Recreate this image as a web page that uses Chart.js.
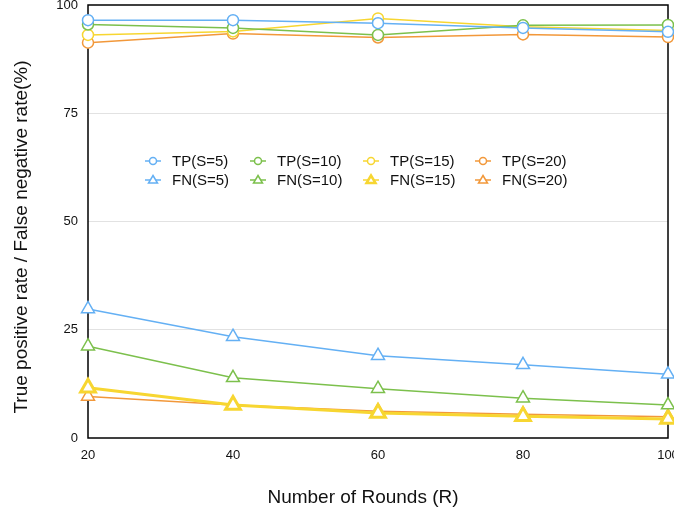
<!DOCTYPE html>
<html>
<head>
<meta charset="utf-8">
<script src="https://cdn.jsdelivr.net/npm/chart.js@4.4.0/dist/chart.umd.min.js"></script>
<style>
html, body { margin: 0; padding: 0; background: #fff; overflow: hidden; }
#wrap { width: 680px; height: 521px; }
</style>
</head>
<body>
<div id="wrap"><canvas id="chart1"></canvas></div>
<script>
var rounds = [20, 40, 60, 80, 100]
var yTicks = [0, 25, 50, 75, 100]

var tp5  = [96.5, 96.5, 95.8, 94.7, 93.8]
var tp10 = [95.5, 94.7, 93.1, 95.3, 95.4]
var tp15 = [93.1, 93.9, 96.9, 95.0, 94.1]
var tp20 = [91.3, 93.4, 92.5, 93.2, 92.6]

var fn5  = [29.8, 23.4, 19.0, 16.9, 14.7]
var fn10 = [21.2, 13.9, 11.4, 9.2, 7.6]
var fn15 = [11.6, 7.6, 5.8, 5.0, 4.4]
var fn20 = [9.6, 7.6, 6.2, 5.5, 4.9]

var xTitle = 'Number of Rounds (R)'
var yTitle = 'True positive rate / False negative rate(%)'

var blue = '#64b0f4'
var green = '#7cc04c'
var yellow = '#f7d631'
var orange = '#f2983a'
var FONT = '"Liberation Sans", Arial, sans-serif'

function series(label, data, col, shape, radius, width) {
    return {
        label: label,
        data: data,
        borderColor: col,
        backgroundColor: col,
        borderWidth: width,
        pointStyle: shape,
        pointRadius: radius,
        pointHoverRadius: radius,
        pointBorderWidth: width,
        pointBorderColor: col,
        pointBackgroundColor: '#fff',
        tension: 0,
        fill: false
    }
}

var datasets = [
    series('TP(S=5)', tp5, blue, 'circle', 5.5, 1.5),
    series('TP(S=10)', tp10, green, 'circle', 5.5, 1.5),
    series('TP(S=15)', tp15, yellow, 'circle', 5.5, 1.5),
    series('TP(S=20)', tp20, orange, 'circle', 5.5, 1.5),
    series('FN(S=5)', fn5, blue, 'triangle', 7.5, 1.5),
    series('FN(S=10)', fn10, green, 'triangle', 7.5, 1.5),
    series('FN(S=15)', fn15, yellow, 'triangle', 8.5, 3),
    series('FN(S=20)', fn20, orange, 'triangle', 7.5, 1.5)
]

// black frame round the plot, drawn under the points
var framePlugin = {
    id: 'frame',
    beforeDatasetsDraw: function(chart) {
        var a = chart.chartArea
        var ctx = chart.ctx
        ctx.save()
        ctx.strokeStyle = '#000'
        ctx.lineWidth = 1.5
        ctx.strokeRect(a.left, a.top, a.right - a.left, a.bottom - a.top)
        ctx.restore()
    }
}

// axis titles, placed where the original has them
var titlePlugin = {
    id: 'axisTitles',
    afterDraw: function(chart) {
        var ctx = chart.ctx
        ctx.save()
        ctx.font = '19px ' + FONT
        ctx.fillStyle = '#111'
        ctx.textAlign = 'center'
        ctx.textBaseline = 'middle'
        ctx.fillText(xTitle, 363, 498)
        ctx.translate(22, 237)
        ctx.rotate(-Math.PI / 2)
        ctx.fillText(yTitle, 0, 0)
        ctx.restore()
    }
}

// legend inside the plot, 4 columns x 2 rows
var legendPlugin = {
    id: 'innerLegend',
    afterDraw: function(chart) {
        var ctx = chart.ctx
        var colX = [153, 258, 371, 483]
        var rowY = [161, 180]
        ctx.save()
        ctx.font = '15px ' + FONT
        ctx.textBaseline = 'middle'
        chart.data.datasets.forEach(function(ds, i) {
            var cx = colX[i % 4]
            var cy = rowY[Math.floor(i / 4)]
            ctx.strokeStyle = ds.borderColor
            ctx.lineWidth = 1.5
            ctx.beginPath()
            ctx.moveTo(cx - 8, cy)
            ctx.lineTo(cx + 8, cy)
            ctx.stroke()
            ctx.fillStyle = '#fff'
            ctx.lineWidth = ds.pointStyle == 'triangle' && ds.borderWidth > 2 ? 2.5 : 1.5
            ctx.beginPath()
            if (ds.pointStyle == 'circle') {
                ctx.arc(cx, cy, 3.5, 0, Math.PI * 2)
            } else {
                ctx.moveTo(cx, cy - 4.5)
                ctx.lineTo(cx + 4.5, cy + 3)
                ctx.lineTo(cx - 4.5, cy + 3)
                ctx.closePath()
            }
            ctx.fill()
            ctx.stroke()
            ctx.fillStyle = '#111'
            ctx.fillText(ds.label, cx + 19, cy + 1)
        })
        ctx.restore()
    }
}

window.onload = function() {
    new Chart(document.getElementById('chart1'), {
        type: 'line',
        data: { labels: rounds, datasets: datasets },
        plugins: [framePlugin, legendPlugin, titlePlugin],
        options: {
            responsive: true,
            maintainAspectRatio: false,
            animation: false,
            layout: { autoPadding: false, padding: { top: 5, right: 12, left: 0, bottom: 0 } },
            plugins: {
                legend: { display: false },
                tooltip: { enabled: false },
                title: { display: false }
            },
            scales: {
                x: {
                    offset: false,
                    grid: { display: false, drawTicks: false },
                    border: { display: false },
                    ticks: {
                        color: '#111',
                        padding: 10,
                        maxRotation: 0,
                        font: { family: FONT, size: 13 }
                    },
                    afterFit: function(scale) {
                        scale.height = 83
                        scale.paddingRight = 0
                        scale.paddingLeft = 0
                    }
                },
                y: {
                    min: 0,
                    max: 100,
                    afterBuildTicks: function(scale) {
                        scale.ticks = yTicks.map(function(v) { return { value: v } })
                    },
                    grid: {
                        color: function(c) {
                            return (c.tick.value == 0 || c.tick.value == 100) ? 'rgba(0,0,0,0)' : '#e2e2e2'
                        },
                        drawTicks: false
                    },
                    border: { display: false },
                    ticks: {
                        color: '#111',
                        padding: 10,
                        font: { family: FONT, size: 13 }
                    },
                    afterFit: function(scale) {
                        scale.width = 88
                        scale.paddingTop = 0
                        scale.paddingBottom = 0
                    }
                }
            }
        }
    });
};
</script>
</body>
</html>
